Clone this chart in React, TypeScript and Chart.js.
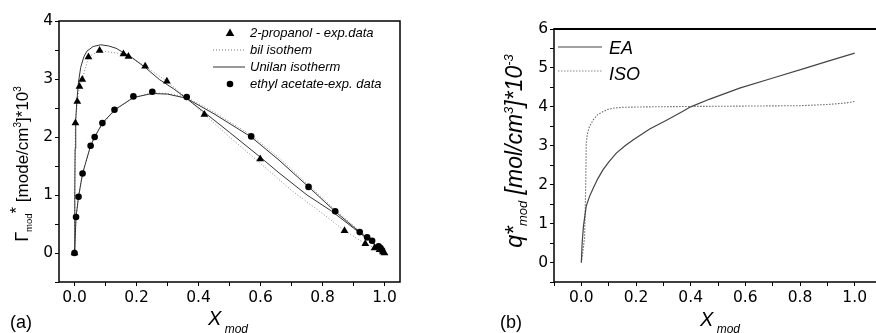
import React, { useEffect, useRef } from "react";
import { Chart, registerables } from "chart.js";
Chart.register(...registerables);

// ---------- Panel (a) data ----------
const propanolX = [0, 0.003, 0.009, 0.016, 0.025, 0.045, 0.081, 0.158, 0.174, 0.228, 0.298, 0.419, 0.599, 0.871, 0.938, 0.968, 0.984, 0.995, 1.0];
const propanolY = [0, 2.24, 2.61, 2.87, 2.99, 3.38, 3.49, 3.43, 3.39, 3.22, 2.96, 2.39, 1.62, 0.385, 0.16, 0.086, 0.057, 0.017, 0];

const eaX = [0, 0.005, 0.013, 0.026, 0.052, 0.065, 0.09, 0.129, 0.19, 0.251, 0.362, 0.57, 0.755, 0.841, 0.92, 0.944, 0.96, 0.981, 0.987, 0.992];
const eaY = [0, 0.62, 0.97, 1.37, 1.85, 2.0, 2.24, 2.47, 2.7, 2.78, 2.69, 2.01, 1.14, 0.72, 0.36, 0.27, 0.21, 0.115, 0.086, 0.046];

const propUnilanX = [0, 0.001, 0.002, 0.004, 0.008, 0.013, 0.02, 0.03, 0.04, 0.06, 0.085, 0.11, 0.134, 0.16, 0.188, 0.23, 0.274, 0.32, 0.36, 0.42, 0.5, 0.6, 0.66, 0.75, 0.83, 0.9, 0.95, 1.0];
const propUnilanY = [0, 1.0, 1.8, 2.3, 2.65, 2.95, 3.2, 3.38, 3.48, 3.56, 3.59, 3.57, 3.53, 3.45, 3.36, 3.19, 2.99, 2.83, 2.67, 2.42, 2.08, 1.65, 1.38, 1.0, 0.72, 0.43, 0.22, 0];

const propBilX = [0, 0.001, 0.003, 0.009, 0.016, 0.025, 0.045, 0.081, 0.158, 0.174, 0.228, 0.298, 0.36, 0.419, 0.5, 0.599, 0.7, 0.8, 0.871, 0.938, 0.968, 1.0];
const propBilY = [0, 1.2, 2.24, 2.61, 2.87, 2.99, 3.38, 3.49, 3.43, 3.39, 3.22, 2.96, 2.68, 2.39, 2.0, 1.55, 1.08, 0.68, 0.385, 0.16, 0.086, 0];

const eaUnilanX = [0, 0.005, 0.013, 0.026, 0.052, 0.065, 0.09, 0.13, 0.19, 0.25, 0.3, 0.36, 0.45, 0.57, 0.66, 0.755, 0.84, 0.92, 0.96, 1.0];
const eaUnilanY = [0, 0.62, 0.97, 1.37, 1.85, 2.0, 2.24, 2.47, 2.68, 2.75, 2.74, 2.67, 2.4, 2.0, 1.6, 1.14, 0.72, 0.36, 0.19, 0];

const eaBilX = [0, 0.005, 0.013, 0.026, 0.052, 0.065, 0.09, 0.13, 0.19, 0.25, 0.3, 0.36, 0.45, 0.57, 0.66, 0.755, 0.84, 0.92, 0.96, 1.0];
const eaBilY = [0, 0.62, 0.97, 1.37, 1.85, 2.0, 2.22, 2.46, 2.68, 2.76, 2.75, 2.69, 2.43, 2.03, 1.64, 1.17, 0.75, 0.38, 0.2, 0];

const xTicksA = [0, 0.1, 0.2, 0.3, 0.4, 0.5, 0.6, 0.7, 0.8, 0.9, 1.0];
const yTicksA = [-0.5, 0, 0.5, 1, 1.5, 2, 2.5, 3, 3.5, 4];

const legendA = ["2-propanol - exp.data", "bil isothem", "Unilan isotherm", "ethyl acetate-exp. data"];

// ---------- Panel (b) data ----------
const eaQX = [0, 0.003, 0.008, 0.018, 0.03, 0.043, 0.06, 0.079, 0.1, 0.128, 0.16, 0.189, 0.25, 0.31, 0.37, 0.4, 0.47, 0.579, 0.701, 0.823, 0.9, 1.0];
const eaQY = [0, 0.5, 0.95, 1.45, 1.7, 1.9, 2.15, 2.38, 2.58, 2.81, 3.0, 3.15, 3.43, 3.65, 3.88, 4.0, 4.2, 4.48, 4.74, 5.0, 5.17, 5.38];

const isoQX = [0, 0.006, 0.012, 0.016, 0.018, 0.022, 0.03, 0.045, 0.06, 0.08, 0.096, 0.12, 0.157, 0.25, 0.4, 0.6, 0.8, 0.9, 0.97, 1.0];
const isoQY = [0, 0.3, 0.66, 1.95, 3.07, 3.3, 3.5, 3.68, 3.8, 3.88, 3.93, 3.97, 3.99, 4.0, 4.01, 4.02, 4.03, 4.06, 4.1, 4.14];

const xTicksB = [-0.1, 0, 0.1, 0.2, 0.3, 0.4, 0.5, 0.6, 0.7, 0.8, 0.9, 1.0, 1.1];
const yTicksB = [-0.5, 0, 0.5, 1, 1.5, 2, 2.5, 3, 3.5, 4, 4.5, 5, 5.5, 6];

const legendB = ["EA", "ISO"];

// ---------- helpers ----------
const SANS = "'Liberation Sans', Arial, Helvetica, sans-serif";
const TICKFONT = "'DejaVu Sans', 'Liberation Sans', sans-serif";

const pts = (xs: number[], ys: number[]) => xs.map((x, i) => ({ x, y: ys[i] }));

type Part = { t: string; size: number; dy: number; italic?: boolean };

function drawRich(ctx: CanvasRenderingContext2D, parts: Part[], x: number, y: number, rotated: boolean) {
  ctx.save();
  ctx.translate(x, y);
  if (rotated) ctx.rotate(-Math.PI / 2);
  ctx.textBaseline = "alphabetic";
  ctx.textAlign = "left";
  ctx.fillStyle = "#000";
  const fontOf = (p: Part) => `${p.italic ? "italic " : ""}${p.size}px ${SANS}`;
  let total = 0;
  const widths = parts.map((p) => {
    ctx.font = fontOf(p);
    const w = ctx.measureText(p.t).width;
    total += w;
    return w;
  });
  let cx = rotated ? -total / 2 : 0;
  parts.forEach((p, i) => {
    ctx.font = fontOf(p);
    ctx.fillText(p.t, cx, p.dy);
    cx += widths[i];
  });
  ctx.restore();
}

const isMajor = (v: number, step: number) => Math.abs(Math.round(v / step) * step - v) < 1e-6;

function axisCommon(min: number, max: number, tickVals: number[], labelFn: (v: number) => string, fitFn: (s: any) => void, pad: number) {
  return {
    type: "linear" as const,
    min,
    max,
    afterBuildTicks: (s: any) => {
      s.ticks = tickVals.map((v) => ({ value: v }));
    },
    afterFit: fitFn,
    ticks: {
      autoSkip: false,
      maxRotation: 0,
      padding: pad,
      color: "#000",
      font: { family: TICKFONT, size: 15.5 },
      callback: (v: any) => labelFn(Number(v)),
    },
    grid: { display: true, drawOnChartArea: false, drawTicks: true, tickLength: 4, color: "#000", lineWidth: 1 },
    border: { display: false },
  };
}

export default function App() {
  const refA = useRef<HTMLCanvasElement>(null);
  const refB = useRef<HTMLCanvasElement>(null);

  useEffect(() => {
    const boxA = {
      id: "boxA",
      afterDraw(chart: any) {
        const ctx = chart.ctx as CanvasRenderingContext2D;
        const a = chart.chartArea;
        ctx.save();
        ctx.strokeStyle = "#000";
        ctx.lineWidth = 1.5;
        ctx.strokeRect(a.left, a.top, a.right - a.left, a.bottom - a.top);

        // legend
        ctx.fillStyle = "#000";
        ctx.font = `italic 13px ${SANS}`;
        ctx.textBaseline = "middle";
        const rows = [33, 50, 67, 84];
        ctx.beginPath();
        ctx.moveTo(230, rows[0] - 4.5);
        ctx.lineTo(234.3, rows[0] + 3);
        ctx.lineTo(225.7, rows[0] + 3);
        ctx.closePath();
        ctx.fill();
        ctx.strokeStyle = "#777";
        ctx.lineWidth = 1;
        ctx.setLineDash([1, 2]);
        ctx.beginPath();
        ctx.moveTo(213, rows[1]);
        ctx.lineTo(245, rows[1]);
        ctx.stroke();
        ctx.setLineDash([]);
        ctx.strokeStyle = "#333";
        ctx.beginPath();
        ctx.moveTo(213, rows[2]);
        ctx.lineTo(245, rows[2]);
        ctx.stroke();
        ctx.beginPath();
        ctx.arc(230, rows[3], 3.3, 0, Math.PI * 2);
        ctx.fill();
        legendA.forEach((t, i) => ctx.fillText(t, 250, rows[i]));
        ctx.restore();

        // axis titles
        drawRich(ctx, [
          { t: "Γ", size: 18, dy: 0 },
          { t: "mod", size: 9.5, dy: 4 },
          { t: "*", size: 17, dy: -6 },
          { t: " [mode/cm", size: 17, dy: 0 },
          { t: "3", size: 10, dy: -7 },
          { t: "]*10", size: 17, dy: 0 },
          { t: "3", size: 10, dy: -7 },
        ], 28, 164, true);
        drawRich(ctx, [
          { t: "X", size: 20, dy: 0, italic: true },
          { t: " mod", size: 12, dy: 8, italic: true },
        ], 208, 325, false);
        drawRich(ctx, [{ t: "(a)", size: 18, dy: 0 }], 10, 328, false);
      },
    };

    const chartA = new Chart(refA.current as HTMLCanvasElement, {
      type: "scatter",
      data: {
        datasets: [
          { label: legendA[0], data: pts(propanolX, propanolY), pointStyle: "triangle", pointRadius: 4.5, backgroundColor: "#000", borderColor: "#000", borderWidth: 0, showLine: false },
          { label: legendA[3], data: pts(eaX, eaY), pointStyle: "circle", pointRadius: 3.3, backgroundColor: "#000", borderColor: "#000", borderWidth: 0, showLine: false },
          { label: legendA[2], data: pts(propUnilanX, propUnilanY), showLine: true, pointRadius: 0, borderColor: "#333", borderWidth: 1, tension: 0 },
          { label: legendA[1], data: pts(propBilX, propBilY), showLine: true, pointRadius: 0, borderColor: "#888", borderWidth: 1, borderDash: [1, 2], tension: 0 },
          { label: legendA[2] + " EA", data: pts(eaUnilanX, eaUnilanY), showLine: true, pointRadius: 0, borderColor: "#333", borderWidth: 1, tension: 0 },
          { label: legendA[1] + " EA", data: pts(eaBilX, eaBilY), showLine: true, pointRadius: 0, borderColor: "#888", borderWidth: 1, borderDash: [1, 2], tension: 0 },
        ] as any,
      },
      options: {
        animation: false,
        responsive: false,
        devicePixelRatio: 1,
        layout: { padding: { left: 0, right: 40, top: 21, bottom: 0 } },
        plugins: { legend: { display: false }, tooltip: { enabled: false } },
        scales: {
          x: axisCommon(-0.05, 1.05, xTicksA, (v) => (isMajor(v, 0.2) ? v.toFixed(1) : ""), (s: any) => { s.height = 51; }, 3),
          y: axisCommon(-0.5, 4, yTicksA, (v) => (isMajor(v, 1) ? String(Math.round(v)) : ""), (s: any) => { s.width = 59; }, 2),
        } as any,
      },
      plugins: [boxA],
    });

    const OFF = 440; // panel (b) canvas starts at page x = 440
    const boxB = {
      id: "boxB",
      afterDraw(chart: any) {
        const ctx = chart.ctx as CanvasRenderingContext2D;
        const a = chart.chartArea;
        ctx.save();
        ctx.strokeStyle = "#000";
        ctx.lineWidth = 1.5;
        ctx.beginPath();
        ctx.moveTo(a.left, a.top);
        ctx.lineTo(a.left, a.bottom);
        ctx.lineTo(a.right, a.bottom);
        ctx.lineTo(a.right, a.top);
        ctx.stroke();
        ctx.lineWidth = 2.2;
        ctx.beginPath();
        ctx.moveTo(a.left - 0.75, a.top);
        ctx.lineTo(a.right, a.top);
        ctx.stroke();

        // legend
        ctx.lineWidth = 1.2;
        ctx.strokeStyle = "#444";
        ctx.beginPath();
        ctx.moveTo(558 - OFF, 47);
        ctx.lineTo(602 - OFF, 47);
        ctx.stroke();
        ctx.strokeStyle = "#888";
        ctx.lineWidth = 1;
        ctx.setLineDash([1.5, 1.5]);
        ctx.beginPath();
        ctx.moveTo(558 - OFF, 71);
        ctx.lineTo(602 - OFF, 71);
        ctx.stroke();
        ctx.setLineDash([]);
        ctx.restore();
        drawRich(ctx, [{ t: legendB[0], size: 18, dy: 0, italic: true }], 609 - OFF, 53.5, false);
        drawRich(ctx, [{ t: legendB[1], size: 18, dy: 0, italic: true }], 609 - OFF, 79.5, false);

        drawRich(ctx, [
          { t: "q*", size: 23, dy: 0, italic: true },
          { t: "mod", size: 13, dy: 5, italic: true },
          { t: " [mol/cm", size: 23, dy: 0, italic: true },
          { t: "3", size: 13, dy: -9, italic: true },
          { t: "]*10", size: 23, dy: 0, italic: true },
          { t: "-3", size: 13, dy: -9, italic: true },
        ], 522 - OFF, 151, true);
        drawRich(ctx, [
          { t: "X", size: 20, dy: 0, italic: true },
          { t: " mod", size: 12, dy: 7, italic: true },
        ], 700 - OFF, 326, false);
        drawRich(ctx, [{ t: "(b)", size: 18, dy: 0 }], 500 - OFF, 328, false);
      },
    };

    const chartB = new Chart(refB.current as HTMLCanvasElement, {
      type: "scatter",
      data: {
        datasets: [
          { label: legendB[0], data: pts(eaQX, eaQY), showLine: true, pointRadius: 0, borderColor: "#444", borderWidth: 1.2, tension: 0 },
          { label: legendB[1], data: pts(isoQX, isoQY), showLine: true, pointRadius: 0, borderColor: "#666", borderWidth: 1.1, borderDash: [1.5, 1.5], tension: 0 },
        ] as any,
      },
      options: {
        animation: false,
        responsive: false,
        devicePixelRatio: 1,
        layout: { padding: { left: 0, right: 18, top: 29, bottom: 0 } },
        plugins: { legend: { display: false }, tooltip: { enabled: false } },
        scales: {
          x: axisCommon(-0.1, 1.1, xTicksB, (v) => (isMajor(v, 0.2) && v > -0.05 && v < 1.05 ? v.toFixed(1) : ""), (s: any) => { s.height = 51; }, 3),
          y: axisCommon(-0.5, 6, yTicksB, (v) => (isMajor(v, 1) ? String(Math.round(v)) : ""), (s: any) => { s.width = 114; }, 2),
        } as any,
      },
      plugins: [boxB],
    });

    return () => {
      chartA.destroy();
      chartB.destroy();
    };
  }, []);

  return (
    <div style={{ position: "fixed", left: 0, top: 0, width: 876, height: 333, overflow: "hidden", background: "#fff" }}>
      <canvas ref={refA} width={440} height={333} style={{ position: "absolute", left: 0, top: 0, width: 440, height: 333 }} />
      <canvas ref={refB} width={460} height={333} style={{ position: "absolute", left: 440, top: 0, width: 460, height: 333 }} />
    </div>
  );
}
